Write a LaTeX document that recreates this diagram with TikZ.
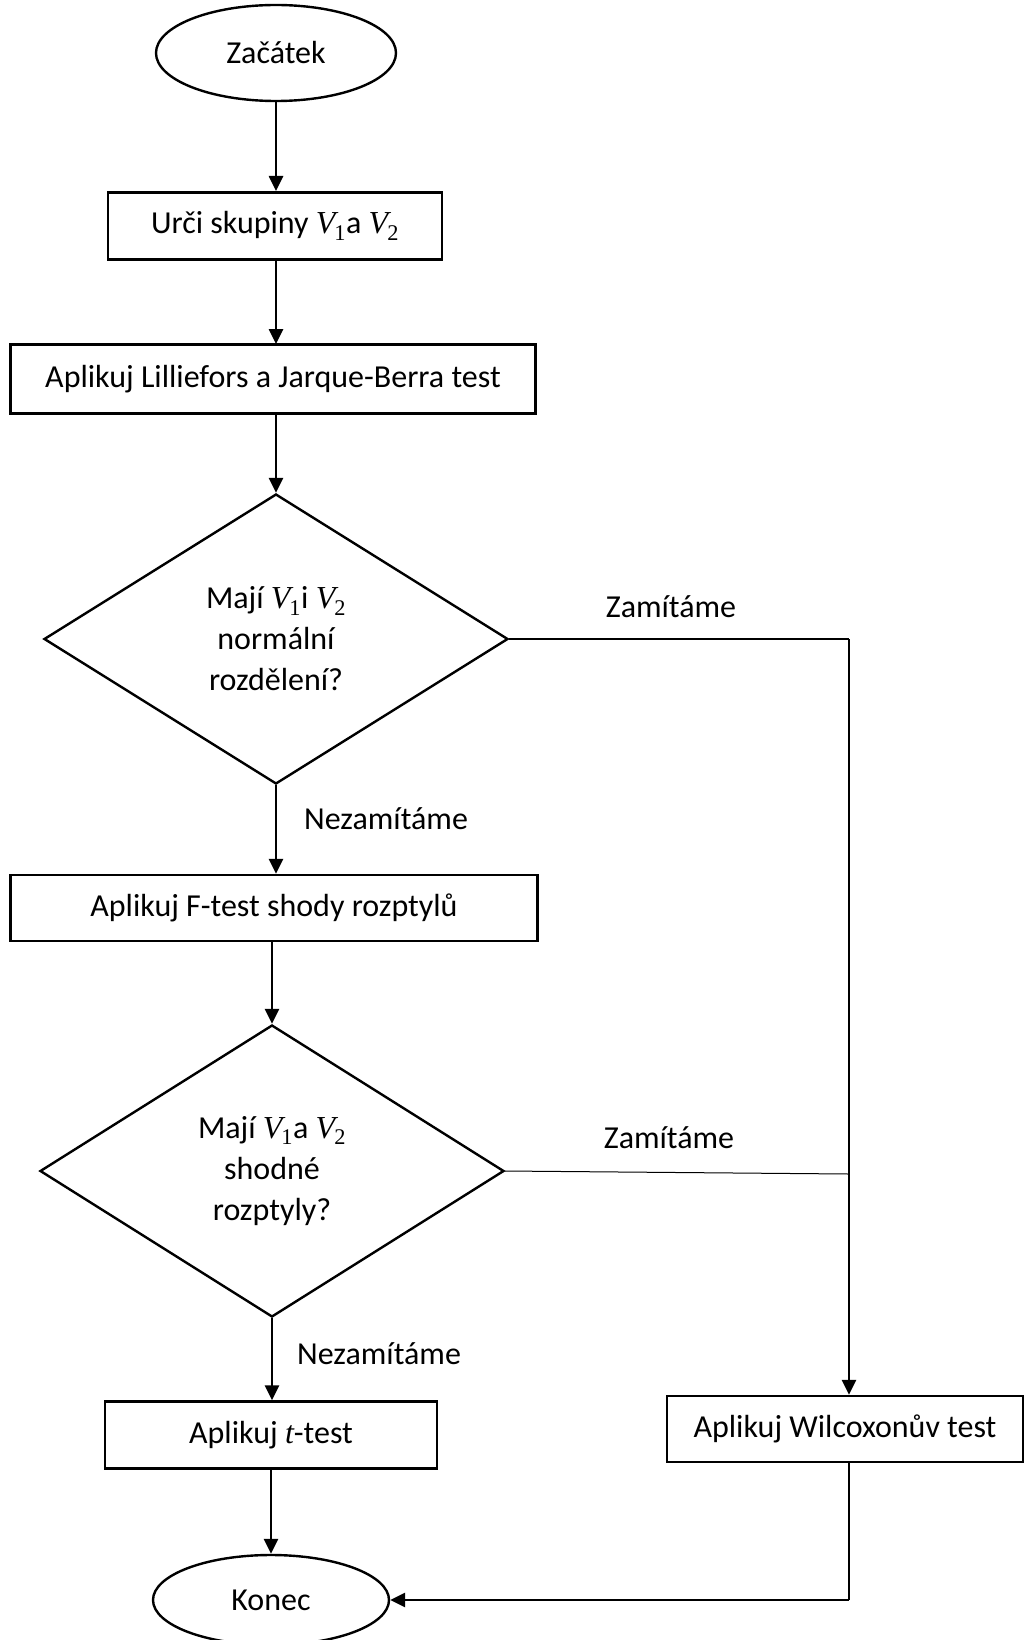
\documentclass[tikz,border=0pt]{standalone}
\usepackage{fontspec}
\setmainfont{Carlito}
\newfontfamily\cambriafam{Liberation Serif}
\newcommand\Vsub[1]{{\cambriafam\itshape V\kern-1pt}{\cambriafam\textsubscript{#1}}}
\usetikzlibrary{shapes.geometric,arrows.meta}
\begin{document}
\begin{tikzpicture}[x=1pt,y=-1pt,
  every node/.style={font=\fontsize{32}{41}\selectfont, inner sep=0pt},
  term/.style={draw, ellipse, line width=2.4pt},
  procbox/.style={draw, rectangle, line width=2.4pt},
  decision/.style={draw, diamond, aspect=1.6, line width=2.4pt, align=center},
  lbl/.style={anchor=center},
  conn/.style={line width=2.6pt, -{Triangle[length=15pt,width=14pt]}},
  plain/.style={line width=2.6pt}]
\useasboundingbox (0,0) rectangle (1024,1640);
\node[term, minimum width=240pt, minimum height=96pt] (start) at (276,53) {Začátek};
\node[procbox, minimum width=334pt, minimum height=67pt] (b1) at (275,226) {Urči skupiny \Vsub{1}a \Vsub{2}};
\node[procbox, minimum width=525pt, minimum height=69pt] (b2) at (273,379) {Aplikuj Lilliefors a Jarque-Berra test};
\node[decision, minimum width=464pt, minimum height=290pt] (d1) at (276,639) {Mají \Vsub{1}i \Vsub{2}\\normální\\rozdělení?};
\node[procbox, minimum width=527pt, minimum height=66pt] (b3) at (274,908) {Aplikuj F-test shody rozptylů};
\node[decision, minimum width=464pt, minimum height=292pt] (d2) at (272,1171) {Mají \Vsub{1}a \Vsub{2}\\shodné\\rozptyly?};
\node[procbox, minimum width=332pt, minimum height=67pt] (b4) at (271,1435) {Aplikuj {\cambriafam\itshape t}-test};
\node[term, minimum width=236pt, minimum height=90pt] (end) at (271,1600) {Konec};
\node[procbox, minimum width=356pt, minimum height=66pt] (b5) at (845,1429) {Aplikuj Wilcoxonův test};

\coordinate (c1) at (849,639);
\coordinate (c2) at (849,1174);
\coordinate (c3) at (849,1600);

\draw[conn] (start.south -| 276,0) -- (276,191);
\draw[conn] (276,260) -- (276,344);
\draw[conn] (276,413) -- (d1.north);
\draw[conn] (d1.south) -- (d1.south |- b3.north);
\draw[conn] (b3.south -| d2.north) -- (d2.north);
\draw[conn] (d2.south) -- (d2.south |- b4.north);
\draw[conn] (b4.south -| end.north) -- (end.north);
\draw[plain] (d1.east) -- (c1);
\draw[conn] (c1) -- (c1 |- b5.north);
\draw[line width=1pt] (d2.east) -- (c2);
\draw[plain] (b5.south -| c3) -- (c3);
\draw[conn] (c3) -- (end.east);

\node[lbl] (z1) at (671,607) {Zamítáme};
\node[lbl] (z2) at (669,1138) {Zamítáme};
\node[lbl] (n1) at (386,819) {Nezamítáme};
\node[lbl] (n2) at (379,1354) {Nezamítáme};
\end{tikzpicture}
\end{document}
